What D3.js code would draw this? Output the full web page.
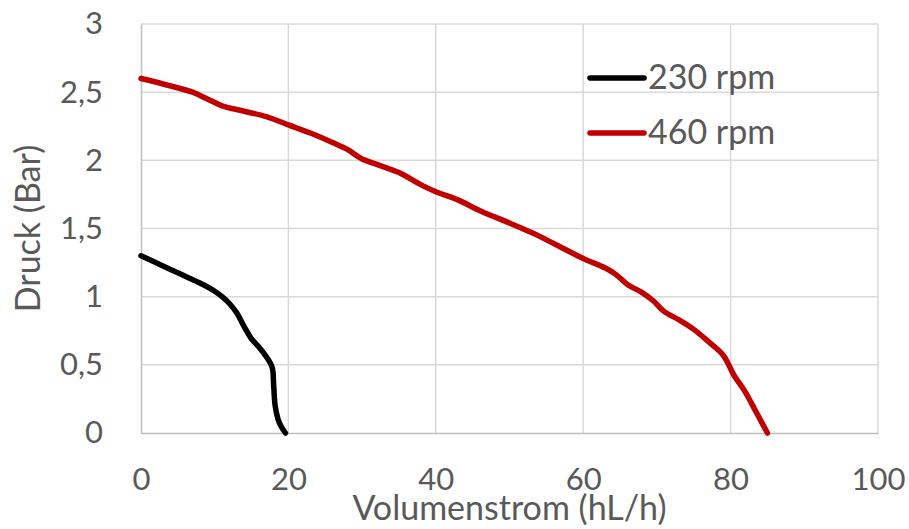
<!DOCTYPE html>
<meta charset="utf-8">
<head>
  <title>Druck / Volumenstrom</title>
</head>

<style>
  body { margin: 0; background: #fff; }
  text { font-family: Lato, "Open Sans", sans-serif; fill: #595959; }
</style>

<body>

  <div id="chart"></div>

  <script src="https://d3js.org/d3.v7.min.js"></script>

  <script>

  // data: flow (hL/h) and pressure (Bar)
  var flow230 = [0, 2, 4, 6, 8, 10, 11, 12, 13, 14, 15, 16, 17, 17.8, 18, 18.2, 18.6, 19, 19.6];
  var druck230 = [1.3, 1.25, 1.2, 1.15, 1.1, 1.04, 1.0, 0.95, 0.88, 0.78, 0.69, 0.63, 0.56, 0.48, 0.35, 0.2, 0.1, 0.05, 0];

  var flow460 = [0, 3, 7, 9, 11, 14, 17, 20, 23, 26, 28, 30, 32, 35, 38, 40, 43, 46, 50, 53, 56, 60, 63, 64.5, 66, 68, 69.5, 71, 73, 75, 77, 79, 80.5, 82, 83.5, 85];
  var druck460 = [2.6, 2.56, 2.5, 2.45, 2.4, 2.36, 2.32, 2.26, 2.2, 2.13, 2.08, 2.01, 1.97, 1.91, 1.82, 1.77, 1.71, 1.63, 1.54, 1.47, 1.39, 1.28, 1.21, 1.16, 1.09, 1.03, 0.97, 0.89, 0.83, 0.76, 0.67, 0.57, 0.42, 0.3, 0.15, 0];

  var seriesNames = ["230 rpm", "460 rpm"];
  var seriesColors = ["#000000", "#c00000"];

  var xTicks = [0, 20, 40, 60, 80, 100];
  var yTicks = [0, 0.5, 1, 1.5, 2, 2.5, 3];

  var W = 909, H = 529;
  var margin = {top: 24, right: 31, bottom: 96, left: 141},
      width = W - margin.left - margin.right,
      height = H - margin.top - margin.bottom;

  var svg = d3.select("#chart")
    .append("svg")
      .attr("width", W)
      .attr("height", H);

  var g = svg.append("g")
      .attr("transform", "translate(" + margin.left + "," + margin.top + ")");

  var x = d3.scaleLinear().domain([0, 100]).range([0, width]);
  var y = d3.scaleLinear().domain([0, 3]).range([height, 0]);

  // gridlines
  g.append("g")
    .selectAll("line")
    .data(xTicks.slice(1))
    .enter().append("line")
      .attr("x1", function(d) { return x(d); })
      .attr("x2", function(d) { return x(d); })
      .attr("y1", 0).attr("y2", height)
      .attr("stroke", "#d9d9d9").attr("stroke-width", 1.5);

  g.append("g")
    .selectAll("line")
    .data(yTicks.slice(1))
    .enter().append("line")
      .attr("x1", 0).attr("x2", width)
      .attr("y1", function(d) { return y(d); })
      .attr("y2", function(d) { return y(d); })
      .attr("stroke", "#d9d9d9").attr("stroke-width", 1.5);

  // axes (decimal comma)
  var fmt = function(d) { return String(d).replace(".", ","); };

  var xAxis = g.append("g")
    .attr("transform", "translate(0," + height + ")")
    .call(d3.axisBottom(x).tickValues(xTicks).tickSize(0).tickPadding(35).tickFormat(fmt));
  xAxis.select(".domain").attr("stroke", "#bfbfbf").attr("stroke-width", 1.5);

  var yAxis = g.append("g")
    .call(d3.axisLeft(y).tickValues(yTicks).tickSize(0).tickPadding(38).tickFormat(fmt));
  yAxis.select(".domain").attr("stroke", "#bfbfbf").attr("stroke-width", 1.5);

  g.selectAll(".tick text")
    .style("font-family", "Lato, 'Open Sans', sans-serif")
    .style("font-size", "31px")
    .attr("fill", "#595959");

  // axis titles
  svg.append("text")
    .attr("x", margin.left + width / 2)
    .attr("y", 520)
    .attr("text-anchor", "middle")
    .style("font-size", "34px")
    .text("Volumenstrom (hL/h)");

  svg.append("text")
    .attr("transform", "translate(40," + (margin.top + height / 2) + ") rotate(-90)")
    .attr("text-anchor", "middle")
    .style("font-size", "34px")
    .text("Druck (Bar)");

  // lines
  var line = d3.line()
    .x(function(d) { return x(d[0]); })
    .y(function(d) { return y(d[1]); })
    .curve(d3.curveCatmullRom.alpha(0.5));

  var series = [
    d3.zip(flow230, druck230),
    d3.zip(flow460, druck460)
  ];

  g.selectAll("path.curve")
    .data(series)
    .enter().append("path")
      .attr("class", "curve")
      .attr("d", line)
      .attr("fill", "none")
      .attr("stroke", function(d, i) { return seriesColors[i]; })
      .attr("stroke-width", 5.5)
      .attr("stroke-linecap", "round")
      .attr("stroke-linejoin", "round");

  // legend
  var legend = svg.append("g")
    .selectAll("g")
    .data(seriesNames)
    .enter().append("g")
      .attr("transform", function(d, i) { return "translate(590," + (78 + i * 55) + ")"; });

  legend.append("line")
    .attr("x1", 0).attr("x2", 54)
    .attr("stroke", function(d, i) { return seriesColors[i]; })
    .attr("stroke-width", 5.5)
    .attr("stroke-linecap", "round");

  legend.append("text")
    .attr("x", 58)
    .attr("y", 11)
    .style("font-size", "34px")
    .text(function(d) { return d; });

  </script>
</body>
</html>
